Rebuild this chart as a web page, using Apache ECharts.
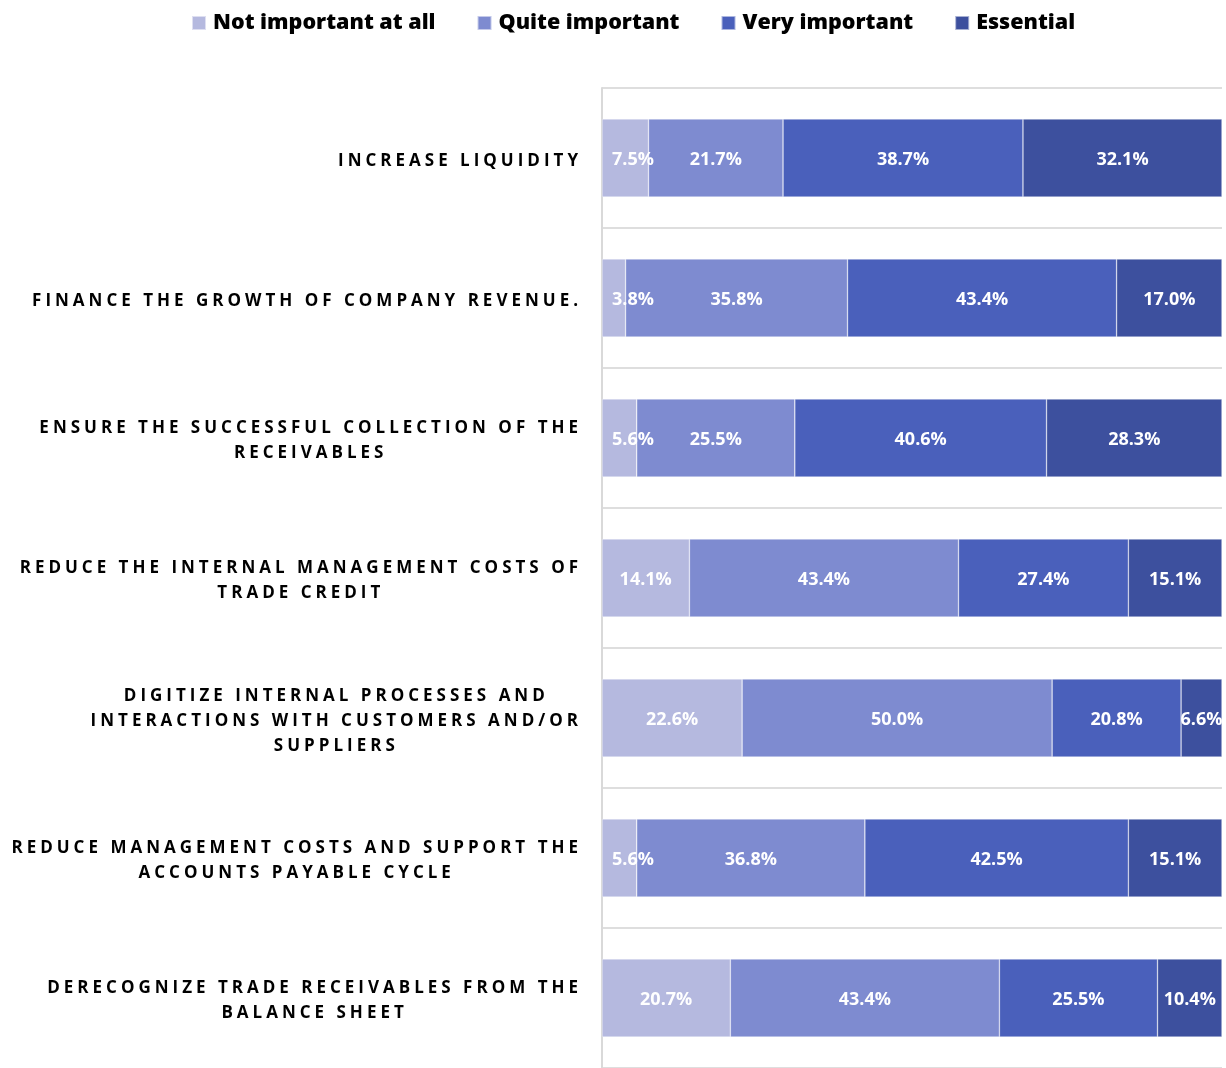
<!DOCTYPE html>
<html>
<head>
<meta charset="utf-8">
<script src="https://cdn.jsdelivr.net/npm/echarts@6/dist/echarts.min.js"></script>
<style>
  html, body { margin: 0; padding: 0; background: #ffffff; }
  #chart { width: 1226px; height: 1068px; }
</style>
</head>
<body>
<div id="chart"></div>
<script>
// Survey categories (top to bottom)
const categories = [
  'INCREASE LIQUIDITY',
  'FINANCE THE GROWTH OF COMPANY REVENUE.',
  'ENSURE THE SUCCESSFUL COLLECTION OF THE\nRECEIVABLES',
  'REDUCE THE INTERNAL MANAGEMENT COSTS OF\nTRADE CREDIT',
  'DIGITIZE INTERNAL PROCESSES AND\nINTERACTIONS WITH CUSTOMERS AND/OR\nSUPPLIERS',
  'REDUCE MANAGEMENT COSTS AND SUPPORT THE\nACCOUNTS PAYABLE CYCLE',
  'DERECOGNIZE TRADE RECEIVABLES FROM THE\nBALANCE SHEET'
];

const seriesNames = ['Not important at all', 'Quite important', 'Very important', 'Essential'];

// Share of respondents (%) per category
const notImportant   = [7.5, 3.8, 5.6, 14.1, 22.6, 5.6, 20.7];
const quiteImportant = [21.7, 35.8, 25.5, 43.4, 50.0, 36.8, 43.4];
const veryImportant  = [38.7, 43.4, 40.6, 27.4, 20.8, 42.5, 25.5];
const essential      = [32.1, 17.0, 28.3, 15.1, 6.6, 15.1, 10.4];

const palette = ['#b5b9df', '#7e8bd0', '#4a60bb', '#3d509e'];

// Tracked (letter-spaced) caps for the category labels: any font string that
// names the "Tracked Caps" family gets extra letter spacing on the canvas.
(function () {
  const proto = CanvasRenderingContext2D.prototype;
  const desc = Object.getOwnPropertyDescriptor(proto, 'font');
  if (!desc || !('letterSpacing' in proto)) return;
  Object.defineProperty(proto, 'font', {
    configurable: true,
    get() { return desc.get.call(this); },
    set(v) {
      desc.set.call(this, v);
      this.letterSpacing = /Tracked Caps/.test(v) ? '4px' : '0px';
    }
  });
})();

const chart = echarts.init(document.getElementById('chart'), null, { renderer: 'canvas' });

const lists = [notImportant, quiteImportant, veryImportant, essential];

// Narrow first segments keep their label just inside the axis instead of centred
const toData = (vals, i) => vals.map(v =>
  (i === 0 && v < 10)
    ? { value: v, label: { position: 'insideLeft', distance: 10 } }
    : v
);

const series = seriesNames.map((name, i) => ({
  name: name,
  type: 'bar',
  stack: 'total',
  barWidth: 78,
  data: toData(lists[i], i),
  itemStyle: { color: palette[i], borderColor: 'rgba(255,255,255,0.55)', borderWidth: 0.6 },
  label: {
    show: true,
    position: 'inside',
    offset: [0, 2],
    color: '#ffffff',
    fontFamily: "'Open Sans', sans-serif",
    fontWeight: 'bold',
    fontSize: 18,
    formatter: p => Number(p.value).toFixed(1) + '%'
  }
}));

chart.setOption({
  animation: false,
  backgroundColor: '#ffffff',
  color: palette,
  legend: {
    top: 12,
    left: 191,
    padding: 0,
    itemWidth: 14,
    itemHeight: 14,
    itemGap: 41,
    icon: 'rect',
    data: seriesNames,
    textStyle: {
      color: '#000000',
      fontFamily: "'Open Sans', sans-serif",
      fontWeight: 800,
      fontSize: 21.5,
      padding: [0, 0, 0, 2]
    }
  },
  grid: { left: 602, right: 4, top: 88, height: 986, containLabel: false },
  xAxis: {
    type: 'value',
    min: 0,
    max: 100,
    show: false
  },
  yAxis: {
    type: 'category',
    inverse: true,
    data: categories,
    axisLine: { show: true, lineStyle: { color: '#d9d9d9', width: 2 } },
    axisTick: { show: false },
    splitLine: { show: true, lineStyle: { color: '#dedede', width: 2 } },
    axisLabel: {
      margin: 20,
      fontSize: 17,
      lineHeight: 25,
      padding: [6, 0, 0, 0],
      formatter: v => v.split('\n').map(s => '{c|' + s + '}').join('\n'),
      rich: {
        c: {
          align: 'center',
          color: '#000000',
          fontFamily: "'Tracked Caps', 'Open Sans', sans-serif",
          fontWeight: 'bold',
          fontSize: 17,
          lineHeight: 25
        }
      }
    }
  },
  series: series
});
</script>
</body>
</html>
